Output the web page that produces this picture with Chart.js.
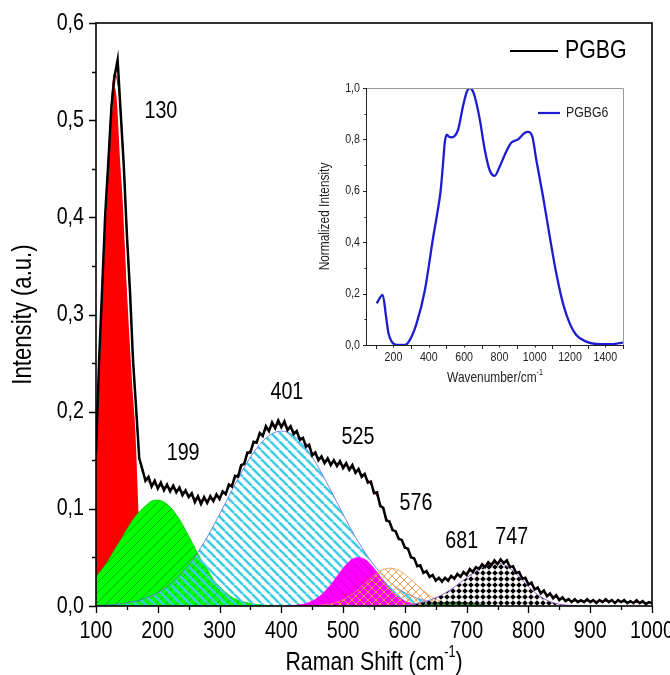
<!DOCTYPE html>
<html>
<head>
<meta charset="utf-8">
<script src="https://cdn.jsdelivr.net/npm/chart.js@4.4.1/dist/chart.umd.min.js"></script>
<style>
  html, body { margin: 0; padding: 0; background: #fff; }
  #wrap { position: relative; width: 670px; height: 675px; }
  #main { position: absolute; left: 0; top: 0; }
  #inset { position: absolute; left: 300px; top: 75px; }
</style>
</head>
<body>
<div id="wrap">
  <canvas id="main" width="670" height="675"></canvas>
  <canvas id="inset" width="360" height="325"></canvas>
</div>
<script>
const FONT = '"Liberation Sans", Arial, Helvetica, sans-serif';
const SQUEEZE = 0.82; // the original uses a condensed face, so glyphs are narrowed

// ---- main chart data (Raman shift cm-1 / intensity a.u.) ----
const xTicks = [100, 200, 300, 400, 500, 600, 700, 800, 900, 1000];
const yTicks = [0, 0.1, 0.2, 0.3, 0.4, 0.5, 0.6];

// measured spectrum, 5 cm-1 steps from 100 to 1000
const specY = [
  0.158, 0.252, 0.327, 0.404, 0.457, 0.514, 0.545, 0.562, 0.507, 0.453,
  0.382, 0.324, 0.252, 0.203, 0.152, 0.141, 0.129, 0.133, 0.123, 0.129,
  0.121, 0.127, 0.119, 0.125, 0.118, 0.124, 0.117, 0.122, 0.114, 0.119,
  0.112, 0.116, 0.107, 0.113, 0.105, 0.112, 0.106, 0.113, 0.108, 0.115,
  0.110, 0.118, 0.115, 0.125, 0.123, 0.134, 0.133, 0.145, 0.146, 0.158,
  0.158, 0.169, 0.168, 0.178, 0.175, 0.185, 0.180, 0.189, 0.183, 0.191,
  0.184, 0.190, 0.181, 0.185, 0.177, 0.180, 0.171, 0.173, 0.164, 0.166,
  0.155, 0.158, 0.150, 0.154, 0.147, 0.152, 0.145, 0.150, 0.144, 0.149,
  0.142, 0.147, 0.140, 0.145, 0.137, 0.141, 0.133, 0.136, 0.127, 0.128,
  0.116, 0.117, 0.103, 0.101, 0.088, 0.087, 0.078, 0.077, 0.069, 0.068,
  0.060, 0.059, 0.050, 0.049, 0.041, 0.042, 0.034, 0.036, 0.030, 0.032,
  0.026, 0.029, 0.025, 0.029, 0.026, 0.031, 0.028, 0.033, 0.030, 0.035,
  0.032, 0.038, 0.035, 0.040, 0.038, 0.043, 0.040, 0.045, 0.042, 0.047,
  0.043, 0.048, 0.044, 0.047, 0.040, 0.041, 0.034, 0.035, 0.028, 0.029,
  0.022, 0.024, 0.017, 0.019, 0.013, 0.016, 0.010, 0.013, 0.008, 0.011,
  0.006, 0.009, 0.005, 0.007, 0.004, 0.007, 0.004, 0.006, 0.004, 0.007,
  0.004, 0.006, 0.003, 0.006, 0.004, 0.007, 0.004, 0.006, 0.003, 0.006,
  0.004, 0.006, 0.003, 0.005, 0.003, 0.006, 0.003, 0.005, 0.002, 0.004,
  0.003
];
const specX = specY.map((_, i) => 100 + i * 5);

// cumulative fit
const fitX = [100, 110, 120, 130, 140, 150, 160, 170, 180, 190, 200, 210, 220, 230, 240, 250,
  260, 270, 280, 290, 300, 310, 320, 330, 340, 350, 360, 370, 380, 390, 400, 410, 420, 430,
  440, 450, 460, 470, 480, 490, 500, 510, 520, 530, 540, 550, 560, 570, 580, 590, 600, 610,
  620, 630, 640, 650, 660, 670, 680, 690, 700, 710, 720, 730, 740, 750, 760, 770, 780, 790,
  800, 810, 820, 830, 840, 850, 860, 880, 920, 960, 1000];
const fitY = [0.16, 0.33, 0.46, 0.548, 0.51, 0.385, 0.255, 0.155, 0.132, 0.126, 0.124, 0.123,
  0.121, 0.120, 0.118, 0.115, 0.111, 0.109, 0.109, 0.111, 0.113, 0.118, 0.126, 0.136, 0.149,
  0.161, 0.171, 0.178, 0.183, 0.186, 0.187, 0.184, 0.180, 0.174, 0.167, 0.158, 0.153, 0.150,
  0.148, 0.147, 0.145, 0.143, 0.140, 0.136, 0.130, 0.119, 0.106, 0.091, 0.080, 0.071, 0.062,
  0.052, 0.043, 0.036, 0.032, 0.028, 0.027, 0.028, 0.030, 0.032, 0.034, 0.037, 0.040, 0.042,
  0.044, 0.045, 0.046, 0.042, 0.036, 0.030, 0.024, 0.019, 0.015, 0.012, 0.010, 0.008, 0.006,
  0.005, 0.005, 0.004, 0.003];

// fitted components
const p130X = [100, 105, 110, 115, 120, 125, 130, 135, 140, 145, 150, 155, 160, 165, 168, 171, 175, 180, 190, 200];
const p130Y = [0.17, 0.25, 0.33, 0.40, 0.46, 0.51, 0.535, 0.52, 0.46, 0.41, 0.34, 0.28, 0.225, 0.18, 0.13, 0.08, 0.04, 0.015, 0.004, 0];

const p199X = [100, 110, 120, 130, 140, 150, 160, 170, 180, 190, 200, 210, 220, 230, 240, 250,
  260, 270, 280, 290, 300, 310, 320, 330, 340, 350, 360, 380, 400];
const p199Y = [0.030, 0.038, 0.047, 0.058, 0.068, 0.079, 0.089, 0.097, 0.103, 0.108, 0.109, 0.107,
  0.102, 0.094, 0.084, 0.072, 0.060, 0.048, 0.038, 0.027, 0.020, 0.014, 0.009, 0.006, 0.004,
  0.0026, 0.0016, 0.0005, 0];

const p401X = [100, 120, 140, 160, 180, 200, 210, 220, 230, 240, 250, 260, 270, 280, 290, 300, 310,
  320, 330, 340, 350, 360, 370, 380, 390, 400, 410, 420, 430, 440, 450, 460, 470, 480, 490, 500,
  510, 520, 530, 540, 550, 560, 570, 580, 590, 600, 620, 640, 660, 680, 700];
const p401Y = [0.0005, 0.0011, 0.0023, 0.0044, 0.0079, 0.0136, 0.0175, 0.0222, 0.0279, 0.0345, 0.0421,
  0.0508, 0.0604, 0.0710, 0.0824, 0.0944, 0.1067, 0.1191, 0.1312, 0.1427, 0.1532, 0.1623, 0.1698,
  0.1754, 0.1788, 0.18, 0.1788, 0.1754, 0.1698, 0.1623, 0.1532, 0.1427, 0.1312, 0.1191, 0.1067,
  0.0944, 0.0824, 0.0710, 0.0604, 0.0508, 0.0421, 0.0345, 0.0279, 0.0222, 0.0175, 0.0136, 0.0079,
  0.0044, 0.0023, 0.0011, 0.0005];

const p525X = [405, 425, 435, 445, 455, 465, 475, 485, 495, 505, 515, 525, 535, 545, 555, 565, 575, 585, 595, 605, 615, 625, 645];
const p525Y = [0, 0.0008, 0.0018, 0.0037, 0.0068, 0.0115, 0.018, 0.026, 0.0346, 0.0425, 0.048, 0.05,
  0.048, 0.0425, 0.0346, 0.026, 0.018, 0.0115, 0.0068, 0.0037, 0.0018, 0.0008, 0];

const p576X = [436, 456, 476, 486, 496, 506, 516, 526, 536, 546, 556, 566, 576, 586, 596, 606, 616,
  626, 636, 646, 656, 666, 676, 696, 716];
const p576Y = [0.0001, 0.0004, 0.0017, 0.0031, 0.0053, 0.0084, 0.0127, 0.0179, 0.0237, 0.0294, 0.0344,
  0.0378, 0.039, 0.0378, 0.0344, 0.0294, 0.0237, 0.0179, 0.0127, 0.0084, 0.0053, 0.0031, 0.0017,
  0.0004, 0.0001];

const p681X = [610, 630, 650, 670, 681, 690, 710, 730, 750];
const p681Y = [0, 0.001, 0.0028, 0.0038, 0.004, 0.0038, 0.0026, 0.001, 0];

const p747X = [600, 610, 620, 630, 640, 650, 660, 670, 680, 690, 700, 710, 720, 730, 740, 750, 760,
  770, 780, 790, 800, 810, 820, 830, 840, 850, 870, 900];
const p747Y = [0.0011, 0.0017, 0.0027, 0.0041, 0.0059, 0.0084, 0.0115, 0.0153, 0.0196, 0.0243, 0.0291,
  0.0338, 0.0379, 0.0412, 0.0433, 0.044, 0.0426, 0.0388, 0.0332, 0.0267, 0.0201, 0.0143, 0.0095,
  0.0059, 0.0035, 0.0019, 0.0005, 0];

// peak labels, anchored in data units
const peakNames = ['130', '199', '401', '525', '576', '681', '747'];
const peakLabelX = [205, 241, 409, 524, 618, 692, 773];
const peakLabelY = [0.509, 0.157, 0.220, 0.174, 0.106, 0.067, 0.071];

// ---- inset data (normalized Raman, PGBG6) ----
const insetXTicks = [200, 400, 600, 800, 1000, 1200, 1400];
const insetYTicks = [0, 0.2, 0.4, 0.6, 0.8, 1.0];
const insetX = [105, 139, 158, 172, 190, 218, 265, 293, 331, 378, 425, 445, 467, 480, 491, 502, 515,
  530, 566, 594, 615, 632, 648, 660, 689, 717, 745, 773, 802, 839, 868, 906, 943, 962, 987, 1009,
  1047, 1085, 1122, 1160, 1198, 1235, 1292, 1348, 1424, 1499];
const insetY = [0.162, 0.195, 0.11, 0.045, 0.013, 0.0, 0.0, 0.02, 0.084, 0.214, 0.42, 0.5, 0.6, 0.7,
  0.79, 0.818, 0.81, 0.808, 0.838, 0.93, 0.985, 1.0, 0.99, 0.968, 0.877, 0.76, 0.68, 0.658, 0.695,
  0.753, 0.788, 0.80, 0.825, 0.829, 0.81, 0.72, 0.578, 0.422, 0.279, 0.162, 0.084, 0.039, 0.013,
  0.004, 0.003, 0.009];

// ---- helpers ----
const pts = (xs, ys) => xs.map((x, i) => ({ x, y: ys[i] }));
const comma = (v) => v.toFixed(1).replace('.', ',');

function hatch(size, bg, color, width, dirs) {
  const c = document.createElement('canvas');
  c.width = c.height = size;
  const g = c.getContext('2d');
  if (bg) { g.fillStyle = bg; g.fillRect(0, 0, size, size); }
  g.strokeStyle = color;
  g.lineWidth = width;
  g.beginPath();
  if (dirs.includes('/')) {
    for (const k of [0, size, 2 * size]) { g.moveTo(k, 0); g.lineTo(k - size, size); }
  }
  if (dirs.includes('\\')) {
    for (const k of [-size, 0, size]) { g.moveTo(k, 0); g.lineTo(k + size, size); }
  }
  g.stroke();
  return g.createPattern(c, 'repeat');
}

function diamonds() {
  const c = document.createElement('canvas');
  c.width = 6; c.height = 6;
  const g = c.getContext('2d');
  g.fillStyle = '#000';
  g.beginPath();
  g.moveTo(3, 0.2); g.lineTo(5.8, 3); g.lineTo(3, 5.8); g.lineTo(0.2, 3);
  g.closePath();
  g.fill();
  return g.createPattern(c, 'repeat');
}

// condensed text: x,y is the anchor, rot in radians
function text(ctx, t, x, y, size, align, rot) {
  ctx.save();
  ctx.translate(x, y);
  if (rot) ctx.rotate(rot);
  ctx.scale(SQUEEZE, 1);
  ctx.font = size + 'px ' + FONT;
  ctx.textAlign = align || 'center';
  ctx.textBaseline = 'middle';
  ctx.fillText(t, 0, 0);
  ctx.restore();
}

function supText(ctx, parts, x, y, size) {
  // parts: [text, isSuperscript], centred on x
  ctx.save();
  ctx.translate(x, y);
  ctx.scale(SQUEEZE, 1);
  let w = 0;
  const widths = parts.map(([t, sup]) => {
    ctx.font = (sup ? size * 0.6 : size) + 'px ' + FONT;
    const m = ctx.measureText(t).width;
    w += m;
    return m;
  });
  let cx = -w / 2;
  parts.forEach(([t, sup], i) => {
    ctx.font = (sup ? size * 0.6 : size) + 'px ' + FONT;
    ctx.textAlign = 'left';
    ctx.textBaseline = 'middle';
    ctx.fillText(t, cx, sup ? -size * 0.38 : 0);
    cx += widths[i];
  });
  ctx.restore();
}

function drawTicks(ctx, scale, area, from, to, step, majorEvery, major, minor, horiz) {
  ctx.beginPath();
  let n = 0;
  for (let v = from; v <= to + 1e-9; v += step, n++) {
    const len = n % majorEvery === 0 ? major : minor;
    const p = Math.round(scale.getPixelForValue(v)) + 0.5;
    if (horiz) { ctx.moveTo(p, area.bottom); ctx.lineTo(p, area.bottom + len); }
    else { ctx.moveTo(area.left, p); ctx.lineTo(area.left - len, p); }
  }
  ctx.stroke();
}

// ---- main chart decoration: frame, ticks, labels, titles, legend ----
const mainDecor = {
  id: 'mainDecor',
  afterDraw(chart) {
    const { ctx, chartArea: a, scales: { x, y } } = chart;
    ctx.save();
    ctx.fillStyle = '#000';
    peakNames.forEach((t, i) => {
      text(ctx, t, x.getPixelForValue(peakLabelX[i]), y.getPixelForValue(peakLabelY[i]), 24);
    });

    ctx.strokeStyle = '#000';
    ctx.lineWidth = 1.6;
    ctx.strokeRect(a.left, a.top, a.right - a.left, a.bottom - a.top);
    ctx.lineWidth = 1.3;
    drawTicks(ctx, x, a, 100, 1000, 50, 2, 7, 4, true);
    drawTicks(ctx, y, a, 0, 0.6, 0.05, 2, 7, 4, false);

    xTicks.forEach(v => text(ctx, String(v), x.getPixelForValue(v), 631, 24));
    yTicks.forEach(v => text(ctx, comma(v), 84, y.getPixelForValue(v), 24, 'right'));

    // legend
    const ds = chart.data.datasets[0];
    ctx.lineWidth = 2;
    ctx.beginPath();
    ctx.moveTo(510, 51); ctx.lineTo(558, 51);
    ctx.stroke();
    text(ctx, ds.label, 565, 51, 26, 'left');

    // axis titles
    supText(ctx, [['Raman Shift (cm', false], ['-1', true], [')', false]], (a.left + a.right) / 2, 663, 26);
    text(ctx, 'Intensity (a.u.)', 24, (a.top + a.bottom) / 2, 27, 'center', -Math.PI / 2);
    ctx.restore();
  }
};

const greenPat = hatch(10, '#00ff00', 'rgba(20,90,20,0.7)', 0.7, '/');
const cyanPat = hatch(9, null, '#40cce6', 2.6, '\\');
const magentaPat = hatch(10, '#ff00ff', 'rgba(110,0,110,0.45)', 0.7, '\\');
const orangePat = hatch(8, null, '#eda050', 1, '/\\');
const dotPat = diamonds();

const line = (extra) => Object.assign({
  pointRadius: 0, tension: 0, fill: false, borderWidth: 1
}, extra);

const hiddenAxis = {
  grid: { display: false, drawTicks: false }, border: { display: false }, ticks: { display: false }
};

new Chart(document.getElementById('main'), {
  type: 'line',
  data: {
    datasets: [
      line({ label: 'PGBG', data: pts(specX, specY), borderColor: '#000', borderWidth: 2.5 }),
      line({ label: 'fit', data: pts(fitX, fitY), borderColor: '#b00000', borderWidth: 1, cubicInterpolationMode: 'monotone' }),
      line({ label: '747', data: pts(p747X, p747Y), borderColor: '#9a6ad0', borderWidth: 1, fill: 'origin', backgroundColor: dotPat, cubicInterpolationMode: 'monotone' }),
      line({ label: '681', data: pts(p681X, p681Y), borderColor: '#2a7a2a', borderWidth: 1, fill: 'origin', backgroundColor: '#3a9a3a', cubicInterpolationMode: 'monotone' }),
      line({ label: '576', data: pts(p576X, p576Y), borderColor: '#e89848', borderWidth: 0.8, fill: 'origin', backgroundColor: orangePat, cubicInterpolationMode: 'monotone' }),
      line({ label: '525', data: pts(p525X, p525Y), borderColor: '#ff00ff', borderWidth: 0.8, fill: 'origin', backgroundColor: magentaPat, cubicInterpolationMode: 'monotone' }),
      line({ label: '401', data: pts(p401X, p401Y), borderColor: '#5a6cd8', borderWidth: 0.8, fill: 'origin', backgroundColor: cyanPat, cubicInterpolationMode: 'monotone' }),
      line({ label: '199', data: pts(p199X, p199Y), borderColor: '#00cc00', borderWidth: 0.8, fill: 'origin', backgroundColor: greenPat, cubicInterpolationMode: 'monotone' }),
      line({ label: '130', data: pts(p130X, p130Y), borderColor: '#ffffff', borderWidth: 1.5, fill: 'origin', backgroundColor: '#ff0000', cubicInterpolationMode: 'monotone' })
    ]
  },
  options: {
    responsive: false,
    animation: false,
    events: [],
    layout: { padding: { left: 0, top: 23, right: 18, bottom: 0 } },
    plugins: { legend: { display: false }, tooltip: { enabled: false } },
    scales: {
      x: Object.assign({ type: 'linear', min: 100, max: 1000,
        afterFit: (s) => { s.height = 69; s.paddingLeft = 0; s.paddingRight = 0; } }, hiddenAxis),
      y: Object.assign({ type: 'linear', min: 0, max: 0.6,
        afterFit: (s) => { s.width = 96; s.paddingTop = 0; s.paddingBottom = 0; } }, hiddenAxis)
    }
  },
  plugins: [mainDecor]
});

// ---- inset ----
const insetDecor = {
  id: 'insetDecor',
  afterDraw(chart) {
    const { ctx, chartArea: a, scales: { x, y } } = chart;
    ctx.save();
    ctx.strokeStyle = '#9a9a9a';
    ctx.lineWidth = 1;
    ctx.beginPath();
    ctx.moveTo(a.left, a.top + 0.5); ctx.lineTo(a.right + 0.5, a.top + 0.5); ctx.lineTo(a.right + 0.5, a.bottom);
    ctx.stroke();
    ctx.strokeStyle = '#222';
    ctx.beginPath();
    ctx.moveTo(a.left - 0.5, a.top); ctx.lineTo(a.left - 0.5, a.bottom + 0.5); ctx.lineTo(a.right + 0.5, a.bottom + 0.5);
    ctx.stroke();
    drawTicks(ctx, x, a, 100, 1500, 100, 2, 4, 2.5, true);
    drawTicks(ctx, y, a, 0, 1.0, 0.1, 2, 4, 2.5, false);

    ctx.fillStyle = '#222';
    insetXTicks.forEach(v => text(ctx, String(v), x.getPixelForValue(v), 282, 13));
    insetYTicks.forEach(v => text(ctx, comma(v), 60, y.getPixelForValue(v), 13, 'right'));
    supText(ctx, [['Wavenumber/cm', false], ['-1', true]], (a.left + a.right) / 2, 303, 14.5);
    text(ctx, 'Normalized Intensity', 25, (a.top + a.bottom) / 2, 14.5, 'center', -Math.PI / 2);

    const ds = chart.data.datasets[0];
    ctx.strokeStyle = ds.borderColor;
    ctx.lineWidth = 2.2;
    ctx.beginPath();
    ctx.moveTo(238, 38); ctx.lineTo(260, 38);
    ctx.stroke();
    text(ctx, ds.label, 266, 38, 15, 'left');
    ctx.restore();
  }
};

new Chart(document.getElementById('inset'), {
  type: 'line',
  data: {
    datasets: [
      line({ label: 'PGBG6', data: pts(insetX, insetY), borderColor: '#1c1cd0', borderWidth: 2.3, cubicInterpolationMode: 'monotone' })
    ]
  },
  options: {
    responsive: false,
    animation: false,
    events: [],
    layout: { padding: { left: 0, top: 13, right: 37, bottom: 0 } },
    plugins: { legend: { display: false }, tooltip: { enabled: false } },
    scales: {
      x: Object.assign({ type: 'linear', min: 50, max: 1500,
        afterFit: (s) => { s.height = 55; s.paddingLeft = 0; s.paddingRight = 0; } }, hiddenAxis),
      y: Object.assign({ type: 'linear', min: 0, max: 1.0,
        afterFit: (s) => { s.width = 67; s.paddingTop = 0; s.paddingBottom = 0; } }, hiddenAxis)
    }
  },
  plugins: [insetDecor]
});
</script>
</body>
</html>
